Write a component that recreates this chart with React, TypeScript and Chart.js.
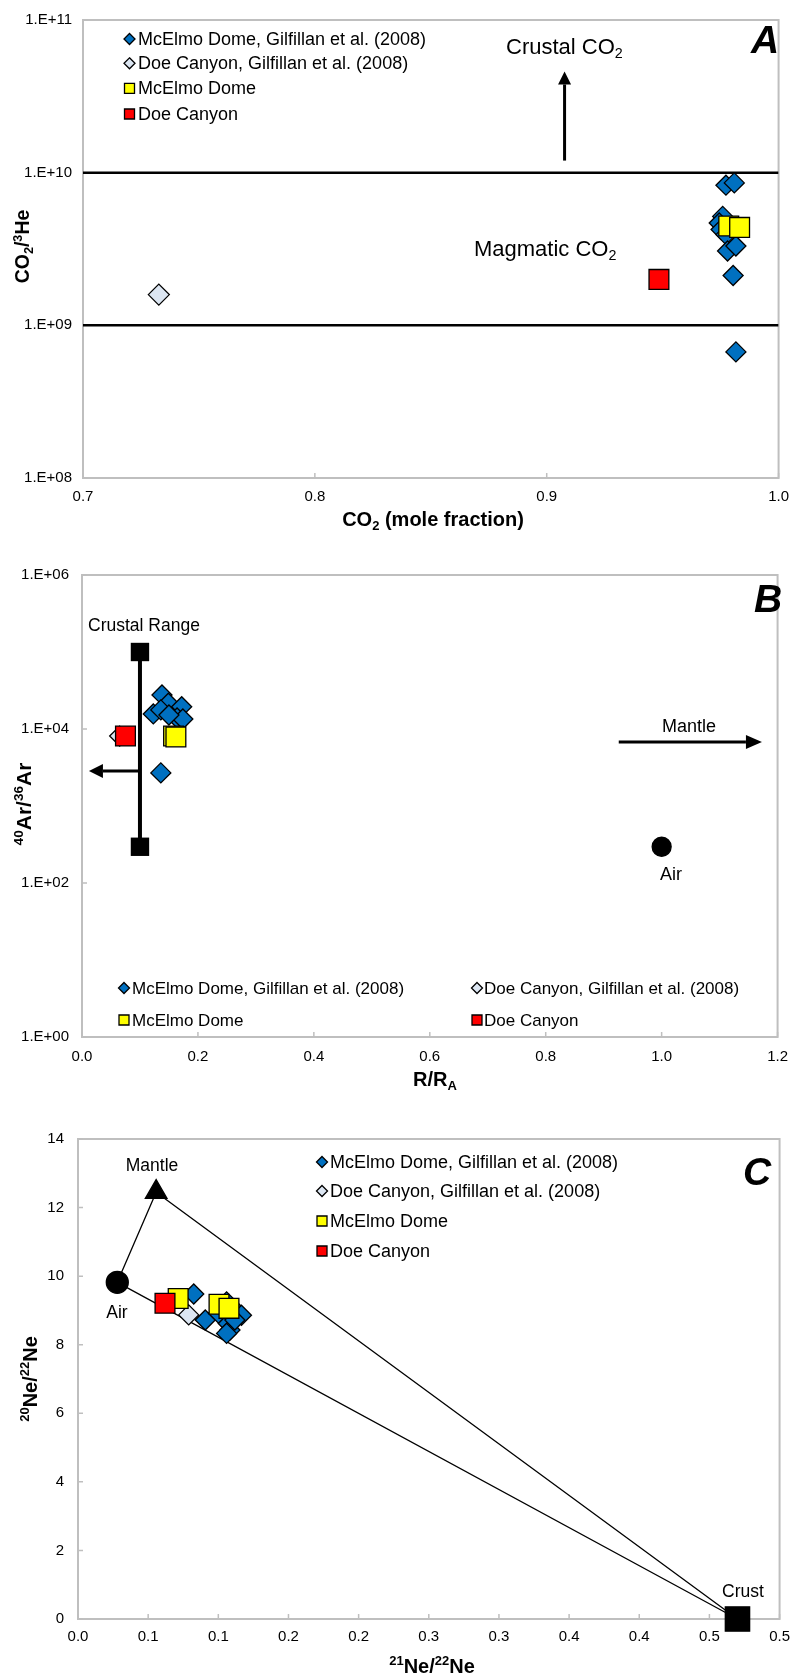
import React, { useEffect, useRef } from "react";
import { Chart, registerables } from "chart.js";

Chart.register(...registerables);

const FONT = '"Liberation Sans", Arial, Helvetica, sans-serif';
const BLUE = "#0070C0";
const LIGHT = "#DCE6F2";
const YELLOW = "#FFFF00";
const RED = "#FF0000";
const AXIS_GRAY = "#BFBFBF";

const legendLabels = [
  "McElmo Dome, Gilfillan et al. (2008)",
  "Doe Canyon, Gilfillan et al. (2008)",
  "McElmo Dome",
  "Doe Canyon",
];

// ---------------- Panel A : CO2/3He vs CO2 ----------------
const aXTicks = [0.7, 0.8, 0.9, 1.0];
const aXTickLabels = ["0.7", "0.8", "0.9", "1.0"];
const aYTicks = [1e8, 1e9, 1e10, 1e11];
const aYTickLabels = ["1.E+08", "1.E+09", "1.E+10", "1.E+11"];
const aMcElmoGilX = [0.9773, 0.9809, 0.9759, 0.9744, 0.9752, 0.9773, 0.978, 0.9816, 0.9804, 0.9816];
const aMcElmoGilY = [8.28e9, 8.57e9, 5.17e9, 4.68e9, 4.24e9, 3.93e9, 3.07e9, 3.31e9, 2.12e9, 6.7e8];
const aDoeGilX = [0.7327];
const aDoeGilY = [1.59e9];
const aMcElmoX = [0.9785, 0.9832];
const aMcElmoY = [4.47e9, 4.38e9];
const aDoeX = [0.9484];
const aDoeY = [2.0e9];
const aMagmaticBounds = [1e9, 1e10];
const aCrustalArrowX = 0.9077;
const aCrustalArrowY = [1.2e10, 4.6e10];

// ---------------- Panel B : 40Ar/36Ar vs R/RA ----------------
const bXTicks = [0, 0.2, 0.4, 0.6, 0.8, 1.0, 1.2];
const bXTickLabels = ["0.0", "0.2", "0.4", "0.6", "0.8", "1.0", "1.2"];
const bYTicks = [1, 1e2, 1e4, 1e6];
const bYTickLabels = ["1.E+00", "1.E+02", "1.E+04", "1.E+06"];
const bMcElmoGilX = [0.138, 0.149, 0.172, 0.123, 0.136, 0.164, 0.174, 0.15, 0.136];
const bMcElmoGilY = [27700, 21600, 19500, 15700, 17700, 13900, 13500, 15200, 2690];
const bDoeGilX = [0.065];
const bDoeGilY = [8100];
const bMcElmoX = [0.158, 0.162];
const bMcElmoY = [8100, 7900];
const bDoeX = [0.075];
const bDoeY = [8100];
const bCrustalRangeX = [0.1, 0.1];
const bCrustalRangeY = [295.5, 1e5];
const bAirX = [1.0];
const bAirY = [295.5];
const bCrustArrowX = [0.1, 0.012];
const bCrustArrowY = 2850;
const bMantleArrowX = [0.926, 1.173];
const bMantleArrowY = 6780;

// ---------------- Panel C : 20Ne/22Ne vs 21Ne/22Ne ----------------
const cXTicks = [0, 0.05, 0.1, 0.15, 0.2, 0.25, 0.3, 0.35, 0.4, 0.45, 0.5];
const cXTickLabels = ["0.0", "0.1", "0.1", "0.2", "0.2", "0.3", "0.3", "0.4", "0.4", "0.5", "0.5"];
const cYTicks = [0, 2, 4, 6, 8, 10, 12, 14];
const cYTickLabels = ["0", "2", "4", "6", "8", "10", "12", "14"];
const cEndX = [0.028, 0.0557, 0.47]; // Air, Mantle, Crust
const cEndY = [9.82, 12.45, 0];
const cMcElmoGilX = [0.0825, 0.0907, 0.1142, 0.1165, 0.1071, 0.1083, 0.1059, 0.1001, 0.1118, 0.1059];
const cMcElmoGilY = [9.48, 8.72, 8.92, 8.86, 8.62, 8.43, 8.33, 8.92, 8.72, 9.25];
const cDoeGilX = [0.0789];
const cDoeGilY = [8.87];
const cMcElmoX = [0.0714, 0.1005, 0.1076];
const cMcElmoY = [9.35, 9.18, 9.06];
const cDoeX = [0.062];
const cDoeY = [9.21];

// ---------------- helpers ----------------
type Pt = { x: number; y: number };
const zip = (xs: number[], ys: number[]): Pt[] => xs.map((x, i) => ({ x, y: ys[i] }));
type Part = { t: string; s?: "sub" | "sup" };

function drawRich(
  ctx: CanvasRenderingContext2D,
  parts: Part[],
  x: number,
  y: number,
  size: number,
  opts: { bold?: boolean; italic?: boolean; align?: "left" | "center" | "right"; rotate?: boolean } = {}
) {
  const { bold = false, italic = false, align = "left", rotate = false } = opts;
  ctx.save();
  ctx.translate(x, y);
  if (rotate) ctx.rotate(-Math.PI / 2);
  const fontFor = (p: Part) =>
    `${italic ? "italic " : ""}${bold ? "bold " : ""}${p.s ? size * 0.65 : size}px ${FONT}`;
  let total = 0;
  for (const p of parts) {
    ctx.font = fontFor(p);
    total += ctx.measureText(p.t).width;
  }
  let cx = align === "center" ? -total / 2 : align === "right" ? -total : 0;
  ctx.textBaseline = "alphabetic";
  ctx.textAlign = "left";
  ctx.fillStyle = "#000";
  for (const p of parts) {
    ctx.font = fontFor(p);
    const dy = p.s === "sub" ? size * 0.2 : p.s === "sup" ? -size * 0.38 : 0;
    ctx.fillText(p.t, cx, dy);
    cx += ctx.measureText(p.t).width;
  }
  ctx.restore();
}

function drawArrow(
  ctx: CanvasRenderingContext2D,
  x1: number,
  y1: number,
  x2: number,
  y2: number,
  lw: number,
  headLen: number,
  headW: number
) {
  const ang = Math.atan2(y2 - y1, x2 - x1);
  const bx = x2 - Math.cos(ang) * headLen;
  const by = y2 - Math.sin(ang) * headLen;
  ctx.save();
  ctx.strokeStyle = "#000";
  ctx.fillStyle = "#000";
  ctx.lineWidth = lw;
  ctx.beginPath();
  ctx.moveTo(x1, y1);
  ctx.lineTo(bx, by);
  ctx.stroke();
  ctx.beginPath();
  ctx.moveTo(x2, y2);
  ctx.lineTo(bx + (Math.sin(ang) * headW) / 2, by - (Math.cos(ang) * headW) / 2);
  ctx.lineTo(bx - (Math.sin(ang) * headW) / 2, by + (Math.cos(ang) * headW) / 2);
  ctx.closePath();
  ctx.fill();
  ctx.restore();
}

function drawMarker(ctx: CanvasRenderingContext2D, kind: "diamond" | "square", x: number, y: number, fill: string) {
  ctx.save();
  ctx.fillStyle = fill;
  ctx.strokeStyle = "#000";
  ctx.lineWidth = 1.3;
  ctx.beginPath();
  if (kind === "diamond") {
    const r = 5.5;
    ctx.moveTo(x, y - r);
    ctx.lineTo(x + r, y);
    ctx.lineTo(x, y + r);
    ctx.lineTo(x - r, y);
    ctx.closePath();
  } else {
    const h = 5;
    ctx.rect(x - h, y - h, 2 * h, 2 * h);
  }
  ctx.fill();
  ctx.stroke();
  ctx.restore();
}

const legendMarkers: ["diamond" | "square", string][] = [
  ["diamond", BLUE],
  ["diamond", LIGHT],
  ["square", YELLOW],
  ["square", RED],
];

function drawLegendItem(ctx: CanvasRenderingContext2D, i: number, mx: number, tx: number, y: number, size: number) {
  drawMarker(ctx, legendMarkers[i][0], mx, y, legendMarkers[i][1]);
  ctx.save();
  ctx.font = `${size}px ${FONT}`;
  ctx.fillStyle = "#000";
  ctx.textBaseline = "middle";
  ctx.textAlign = "left";
  ctx.fillText(legendLabels[i], tx, y + 1);
  ctx.restore();
}

function axis(
  type: "linear" | "logarithmic",
  min: number,
  max: number,
  values: number[],
  labels: string[],
  padding: number,
  fit: { width?: number; height?: number }
) {
  return {
    type,
    min,
    max,
    grid: { display: false, drawTicks: false },
    border: { display: false },
    ticks: {
      autoSkip: false,
      maxRotation: 0,
      minRotation: 0,
      padding,
      color: "#000",
      font: { family: FONT, size: 15 },
      callback: (_v: any, i: number) => labels[i],
    },
    afterBuildTicks: (s: any) => {
      s.ticks = values.map((v) => ({ value: v }));
    },
    afterFit: (s: any) => {
      if (fit.width !== undefined) s.width = fit.width;
      if (fit.height !== undefined) s.height = fit.height;
    },
  } as any;
}

function framePlugin(id: string, extra: (chart: any) => void) {
  return {
    id,
    beforeDatasetsDraw(chart: any) {
      const { ctx, chartArea: a, scales } = chart;
      ctx.save();
      ctx.strokeStyle = AXIS_GRAY;
      ctx.lineWidth = 2;
      ctx.strokeRect(a.left, a.top, a.right - a.left, a.bottom - a.top);
      ctx.lineWidth = 1.5;
      ctx.beginPath();
      for (const t of scales.x.ticks) {
        const px = scales.x.getPixelForValue(t.value);
        ctx.moveTo(px, a.bottom);
        ctx.lineTo(px, a.bottom - 5);
      }
      for (const t of scales.y.ticks) {
        const py = scales.y.getPixelForValue(t.value);
        ctx.moveTo(a.left, py);
        ctx.lineTo(a.left + 5, py);
      }
      ctx.stroke();
      ctx.restore();
    },
    afterDatasetsDraw(chart: any) {
      extra(chart);
    },
  };
}

const baseOptions = (padding: any, scales: any) =>
  ({
    animation: false,
    responsive: false,
    maintainAspectRatio: false,
    devicePixelRatio: 1,
    events: [],
    layout: { padding },
    plugins: { legend: { display: false }, tooltip: { enabled: false } },
    scales,
  } as any);

const markerSet = (label: string, data: Pt[], style: string, radius: number, fill: string, order: number) => ({
  label,
  data,
  pointStyle: style,
  pointRadius: radius,
  backgroundColor: fill,
  borderColor: "#000",
  borderWidth: 1.3,
  showLine: false,
  clip: false,
  order,
});

// ---------------- builders ----------------
function buildA(canvas: HTMLCanvasElement) {
  const plugin = framePlugin("panelA", (chart) => {
    const { ctx, scales } = chart;
    const ax = scales.x.getPixelForValue(aCrustalArrowX);
    drawArrow(ctx, ax, scales.y.getPixelForValue(aCrustalArrowY[0]), ax, scales.y.getPixelForValue(aCrustalArrowY[1]), 3, 13, 13);
    drawRich(ctx, [{ t: "Crustal CO" }, { t: "2", s: "sub" }], 506, 54, 22);
    drawRich(ctx, [{ t: "Magmatic CO" }, { t: "2", s: "sub" }], 474, 256, 22);
    drawRich(ctx, [{ t: "A" }], 765, 53, 39, { bold: true, italic: true, align: "center" });
    drawRich(ctx, [{ t: "CO" }, { t: "2", s: "sub" }, { t: "/" }, { t: "3", s: "sup" }, { t: "He" }], 29, 246.5, 19.5, {
      bold: true,
      align: "center",
      rotate: true,
    });
    drawRich(ctx, [{ t: "CO" }, { t: "2", s: "sub" }, { t: " (mole fraction)" }], 433, 526, 20, { bold: true, align: "center" });
    const rows = [39, 63.3, 88.3, 114];
    rows.forEach((y, i) => drawLegendItem(ctx, i, 129.5, 138, y, 18));
  });
  return new Chart(canvas, {
    type: "scatter",
    data: {
      datasets: [
        ...aMagmaticBounds.map((v) => ({
          label: "bound",
          data: zip([aXTicks[0], aXTicks[aXTicks.length - 1]], [v, v]),
          showLine: true,
          borderColor: "#000",
          borderWidth: 2.5,
          pointRadius: 0,
          order: 10,
        })),
        markerSet(legendLabels[0], zip(aMcElmoGilX, aMcElmoGilY), "rectRot", 10, BLUE, 4),
        markerSet(legendLabels[1], zip(aDoeGilX, aDoeGilY), "rectRot", 10.5, LIGHT, 3),
        markerSet(legendLabels[2], zip(aMcElmoX, aMcElmoY), "rect", 14, YELLOW, 2),
        markerSet(legendLabels[3], zip(aDoeX, aDoeY), "rect", 14, RED, 1),
      ],
    } as any,
    options: baseOptions(
      { left: 0, right: 16, top: 15, bottom: 0 },
      {
        x: axis("linear", 0.7, 1.0, aXTicks, aXTickLabels, 10, { height: 67 }),
        y: axis("logarithmic", 1e8, 1e11, aYTicks, aYTickLabels, 11, { width: 83 }),
      }
    ),
    plugins: [plugin],
  });
}

function buildB(canvas: HTMLCanvasElement) {
  const plugin = framePlugin("panelB", (chart) => {
    const { ctx, scales } = chart;
    const cy = scales.y.getPixelForValue(bCrustArrowY);
    drawArrow(ctx, scales.x.getPixelForValue(bCrustArrowX[0]), cy, scales.x.getPixelForValue(bCrustArrowX[1]), cy, 3, 14, 14);
    const my = scales.y.getPixelForValue(bMantleArrowY);
    drawArrow(ctx, scales.x.getPixelForValue(bMantleArrowX[0]), my, scales.x.getPixelForValue(bMantleArrowX[1]), my, 3, 16, 14);
    drawRich(ctx, [{ t: "Crustal Range" }], 88, 86, 17.5);
    drawRich(ctx, [{ t: "Mantle" }], 689, 187, 18, { align: "center" });
    drawRich(ctx, [{ t: "Air" }], 671, 335, 18, { align: "center" });
    drawRich(ctx, [{ t: "B" }], 768, 67, 39, { bold: true, italic: true, align: "center" });
    drawRich(ctx, [{ t: "40", s: "sup" }, { t: "Ar/" }, { t: "36", s: "sup" }, { t: "Ar" }], 31, 259, 21, {
      bold: true,
      align: "center",
      rotate: true,
    });
    drawRich(ctx, [{ t: "R/R" }, { t: "A", s: "sub" }], 435, 541, 20, { bold: true, align: "center" });
    const rows = [443, 475];
    const mxs = [124, 477];
    const txs = [132, 484];
    [0, 1, 2, 3].forEach((i) => drawLegendItem(ctx, i, mxs[i % 2], txs[i % 2], rows[Math.floor(i / 2)], 17));
  });
  return new Chart(canvas, {
    type: "scatter",
    data: {
      datasets: [
        {
          label: "Crustal Range",
          data: zip(bCrustalRangeX, bCrustalRangeY),
          showLine: true,
          borderColor: "#000",
          borderWidth: 4,
          pointStyle: "rect",
          pointRadius: 13,
          backgroundColor: "#000",
          pointBorderColor: "#000",
          pointBorderWidth: 0,
          clip: false,
          order: 6,
        },
        markerSet("Air", zip(bAirX, bAirY), "circle", 9.5, "#000", 5),
        markerSet(legendLabels[0], zip(bMcElmoGilX, bMcElmoGilY), "rectRot", 10, BLUE, 4),
        markerSet(legendLabels[1], zip(bDoeGilX, bDoeGilY), "rectRot", 10, LIGHT, 3),
        markerSet(legendLabels[2], zip(bMcElmoX, bMcElmoY), "rect", 14, YELLOW, 2),
        markerSet(legendLabels[3], zip(bDoeX, bDoeY), "rect", 14, RED, 1),
      ],
    } as any,
    options: baseOptions(
      { left: 0, right: 11, top: 30, bottom: 0 },
      {
        x: axis("linear", 0, 1.2, bXTicks, bXTickLabels, 11, { height: 58 }),
        y: axis("logarithmic", 1, 1e6, bYTicks, bYTickLabels, 13, { width: 82 }),
      }
    ),
    plugins: [plugin],
  });
}

function buildC(canvas: HTMLCanvasElement) {
  const plugin = framePlugin("panelC", (chart) => {
    const { ctx } = chart;
    drawRich(ctx, [{ t: "Mantle" }], 152, 76, 17.5, { align: "center" });
    drawRich(ctx, [{ t: "Air" }], 117, 223, 17.5, { align: "center" });
    drawRich(ctx, [{ t: "Crust" }], 743, 502, 17.5, { align: "center" });
    drawRich(ctx, [{ t: "C" }], 757, 90, 39, { bold: true, italic: true, align: "center" });
    drawRich(ctx, [{ t: "20", s: "sup" }, { t: "Ne/" }, { t: "22", s: "sup" }, { t: "Ne" }], 37, 284, 20, {
      bold: true,
      align: "center",
      rotate: true,
    });
    drawRich(ctx, [{ t: "21", s: "sup" }, { t: "Ne/" }, { t: "22", s: "sup" }, { t: "Ne" }], 432, 578, 20, {
      bold: true,
      align: "center",
    });
    const rows = [67, 96, 126, 156];
    rows.forEach((y, i) => drawLegendItem(ctx, i, 322, 330, y, 18));
  });
  const tri = zip([cEndX[0], cEndX[1], cEndX[2], cEndX[0]], [cEndY[0], cEndY[1], cEndY[2], cEndY[0]]);
  return new Chart(canvas, {
    type: "scatter",
    data: {
      datasets: [
        {
          label: "mixing",
          data: tri,
          showLine: true,
          borderColor: "#000",
          borderWidth: 1.3,
          pointRadius: 0,
          clip: false,
          order: 10,
        },
        markerSet("Air", zip([cEndX[0]], [cEndY[0]]), "circle", 11, "#000", 7),
        markerSet("Mantle", zip([cEndX[1]], [cEndY[1]]), "triangle", 12.5, "#000", 7),
        markerSet("Crust", zip([cEndX[2]], [cEndY[2]]), "rect", 17.2, "#000", 7),
        markerSet(legendLabels[0], zip(cMcElmoGilX, cMcElmoGilY), "rectRot", 10, BLUE, 4),
        markerSet(legendLabels[1], zip(cDoeGilX, cDoeGilY), "rectRot", 10, LIGHT, 3),
        markerSet(legendLabels[2], zip(cMcElmoX, cMcElmoY), "rect", 14, YELLOW, 2),
        markerSet(legendLabels[3], zip(cDoeX, cDoeY), "rect", 14, RED, 1),
      ],
    } as any,
    options: baseOptions(
      { left: 0, right: 11.5, top: 44, bottom: 0 },
      {
        x: axis("linear", 0, 0.5, cXTicks, cXTickLabels, 9, { height: 58 }),
        y: axis("linear", 0, 14, cYTicks, cYTickLabels, 14, { width: 78 }),
      }
    ),
    plugins: [plugin],
  });
}

function Panel({ top, height, build }: { top: number; height: number; build: (c: HTMLCanvasElement) => Chart }) {
  const ref = useRef<HTMLCanvasElement>(null);
  useEffect(() => {
    if (!ref.current) return;
    const chart = build(ref.current);
    return () => chart.destroy();
  }, [build]);
  return (
    <canvas
      ref={ref}
      width={799}
      height={height}
      style={{ position: "absolute", left: 0, top, width: 799, height, display: "block" }}
    />
  );
}

export default function App() {
  return (
    <div style={{ position: "absolute", left: 0, top: 0, width: 799, height: 1677, background: "#fff", overflow: "hidden" }}>
      <Panel top={0} height={545} build={buildA} />
      <Panel top={545} height={550} build={buildB} />
      <Panel top={1095} height={582} build={buildC} />
    </div>
  );
}
